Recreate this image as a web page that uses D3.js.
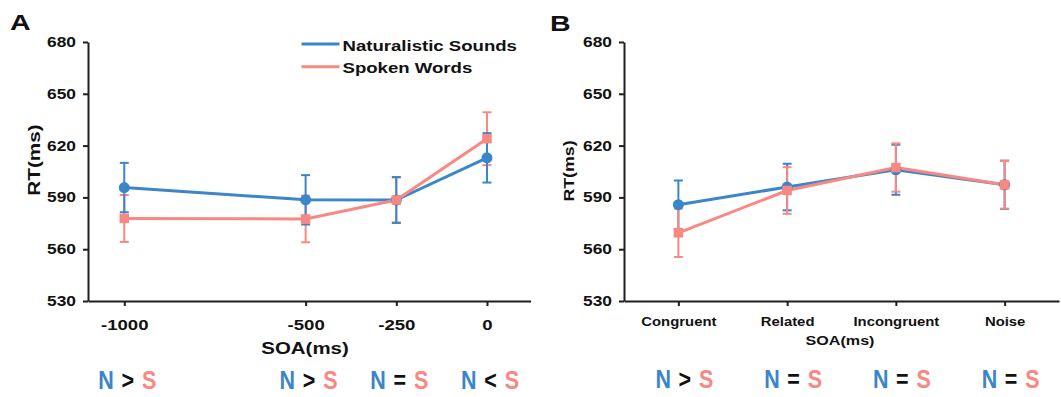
<!DOCTYPE html>
<html>
<head>
<meta charset="utf-8">
<script src="https://cdn.jsdelivr.net/npm/d3@7"></script>
<style>
  html, body { margin: 0; padding: 0; background: #fff; }
  svg { display: block; }
  text { font-family: "Liberation Sans", Arial, Helvetica, sans-serif; font-weight: bold; fill: #111; }
</style>
</head>
<body>
<svg id="fig" width="1061" height="397"></svg>
<script>
// ---- Panel A: RT by SOA ----
const soaValues = [-1000, -500, -250, 0];
const soaTickLabels = ["-1000", "-500", "-250", "0"];
const naturalMeanA = [595.7, 588.6, 588.5, 612.9];
const naturalSemA  = [14.3, 14.3, 13.3, 14.3];
const spokenMeanA  = [577.8, 577.5, 588.5, 624.0];
const spokenSemA   = [13.6, 13.5, 13.0, 15.3];
const compareA = [">", ">", "=", "<"];

// ---- Panel B: RT by prime condition ----
const conditions = ["Congruent", "Related", "Incongruent", "Noise"];
const naturalMeanB = [585.8, 596.0, 606.0, 597.3];
const naturalSemB  = [14.0, 13.5, 14.5, 14.0];
const spokenMeanB  = [569.5, 594.0, 607.3, 597.3];
const spokenSemB   = [14.0, 13.5, 14.0, 13.8];
const compareB = [">", "=", "=", "="];

const rtTicks = [530, 560, 590, 620, 650, 680];
const seriesNames = ["Naturalistic Sounds", "Spoken Words"];

const BLUE = "#3a86c8";
const PINK = "#f98883";
const AXIS = "#1e1e1e";
const STRETCH = 1.24;

const svg = d3.select("#fig");

// scale glyphs horizontally around each text's own anchor point
function stretch(sel, k) {
  sel.each(function () {
    const t = d3.select(this);
    const x = +t.attr("x") || 0, y = +t.attr("y") || 0;
    t.attr("x", 0).attr("y", 0)
     .attr("transform", `translate(${x},${y}) scale(${k},1)`);
  });
}

function styleAxis(g) {
  g.selectAll(".domain").attr("stroke", AXIS).attr("stroke-width", 2);
  g.selectAll(".tick line").attr("stroke", AXIS).attr("stroke-width", 2);
  g.selectAll("text").attr("fill", "#111");
}

function drawSeries(g, x, y, keys, means, sems, color, shape) {
  const pts = keys.map((k, i) => ({ k, m: means[i], s: sems[i] }));
  return {
    line() {
      g.append("path").datum(pts)
        .attr("fill", "none").attr("stroke", color).attr("stroke-width", 3)
        .attr("stroke-linejoin", "round")
        .attr("d", d3.line().x(d => x(d.k)).y(d => y(d.m)));
    },
    errors() {
      const eb = g.append("g").attr("stroke", color).attr("stroke-width", 2);
      pts.forEach(d => {
        const cx = x(d.k);
        eb.append("line").attr("x1", cx).attr("x2", cx)
          .attr("y1", y(d.m - d.s)).attr("y2", y(d.m + d.s));
        [d.m - d.s, d.m + d.s].forEach(v => {
          eb.append("line").attr("x1", cx - 4.5).attr("x2", cx + 4.5)
            .attr("y1", y(v)).attr("y2", y(v));
        });
      });
    },
    markers() {
      if (shape === "circle") {
        g.selectAll(null).data(pts).join("circle")
          .attr("cx", d => x(d.k)).attr("cy", d => y(d.m)).attr("r", 5.5)
          .attr("fill", color);
      } else {
        g.selectAll(null).data(pts).join("rect")
          .attr("x", d => x(d.k) - 4.75).attr("y", d => y(d.m) - 4.75)
          .attr("width", 9.5).attr("height", 9.5).attr("fill", color);
      }
    }
  };
}

// "N ? S" comparison markers under each condition
function comparisons(g, xs, symbols, baseline) {
  const k = 0.86;
  xs.forEach((cx, i) => {
    stretch(g.append("text").attr("x", cx - 29).attr("y", baseline)
      .attr("font-size", 25).attr("text-anchor", "start")
      .style("fill", BLUE).text("N"), k);
    stretch(g.append("text").attr("x", cx + 0.5).attr("y", baseline)
      .attr("font-size", 25).attr("text-anchor", "middle")
      .style("fill", "#111").text(symbols[i]), k);
    stretch(g.append("text").attr("x", cx + 29).attr("y", baseline)
      .attr("font-size", 25).attr("text-anchor", "end")
      .style("fill", PINK).text("S"), k);
  });
}

// ================= Panel A =================
const xA = d3.scaleLinear().domain([-1100, 120]).range([88, 530.5]);
const yA = d3.scaleLinear().domain([530, 680]).range([301, 42]);
const gA = svg.append("g");

const axYA = gA.append("g").attr("transform", `translate(${xA.range()[0]},0)`)
  .call(d3.axisLeft(yA).tickValues(rtTicks).tickSize(5).tickPadding(7).tickSizeOuter(0));
axYA.selectAll("text").attr("font-size", 14);
styleAxis(axYA);
stretch(axYA.selectAll(".tick text"), STRETCH);

const axXA = gA.append("g").attr("transform", `translate(0,${yA.range()[0]})`)
  .call(d3.axisBottom(xA).tickValues(soaValues)
    .tickFormat((d, i) => soaTickLabels[i]).tickSize(5).tickSizeOuter(0));
axXA.selectAll("text").attr("font-size", 15).attr("y", 18);
styleAxis(axXA);
stretch(axXA.selectAll(".tick text"), STRETCH);

const nA = drawSeries(gA, xA, yA, soaValues, naturalMeanA, naturalSemA, BLUE, "circle");
const sA = drawSeries(gA, xA, yA, soaValues, spokenMeanA, spokenSemA, PINK, "square");
nA.line(); sA.line(); sA.errors(); nA.errors(); nA.markers(); sA.markers();

stretch(gA.append("text").attr("x", 305).attr("y", 354).attr("text-anchor", "middle")
  .attr("font-size", 16.5).text("SOA(ms)"), STRETCH);
gA.append("text").attr("text-anchor", "middle").attr("font-size", 17)
  .attr("transform", "translate(40,160) rotate(-90) scale(1.22,1)").text("RT(ms)");
stretch(gA.append("text").attr("x", 10).attr("y", 30).attr("font-size", 22).text("A"), 1.3);

// legend
const legend = gA.append("g");
[BLUE, PINK].forEach((c, i) => {
  const ly = 44 + i * 22.7;
  legend.append("line").attr("x1", 301.5).attr("x2", 339.5).attr("y1", ly).attr("y2", ly)
    .attr("stroke", c).attr("stroke-width", 3);
  stretch(legend.append("text").attr("x", 342.5).attr("y", ly + 6.5)
    .attr("font-size", 15).text(seriesNames[i]), STRETCH);
});

comparisons(gA, soaValues.map(v => xA(v) + 3), compareA, 389);

// ================= Panel B =================
const xB = d3.scalePoint().domain(conditions).range([624, 1059]).padding(0.5);
const yB = d3.scaleLinear().domain([530, 680]).range([301, 42]);
const gB = svg.append("g");

const axYB = gB.append("g").attr("transform", `translate(${xB.range()[0]},0)`)
  .call(d3.axisLeft(yB).tickValues(rtTicks).tickSize(5).tickPadding(7).tickSizeOuter(0));
axYB.selectAll("text").attr("font-size", 14);
styleAxis(axYB);
stretch(axYB.selectAll(".tick text"), STRETCH);

const axXB = gB.append("g").attr("transform", `translate(0,${yB.range()[0]})`)
  .call(d3.axisBottom(xB).tickSize(5).tickSizeOuter(0));
axXB.selectAll("text").attr("font-size", 12).attr("y", 16.5);
styleAxis(axXB);
stretch(axXB.selectAll(".tick text"), STRETCH);

const nB = drawSeries(gB, xB, yB, conditions, naturalMeanB, naturalSemB, BLUE, "circle");
const sB = drawSeries(gB, xB, yB, conditions, spokenMeanB, spokenSemB, PINK, "square");
nB.line(); sB.line(); nB.errors(); sB.errors(); nB.markers(); sB.markers();

stretch(gB.append("text").attr("x", 840).attr("y", 345).attr("text-anchor", "middle")
  .attr("font-size", 13).text("SOA(ms)"), STRETCH);
gB.append("text").attr("text-anchor", "middle").attr("font-size", 14)
  .attr("transform", "translate(574,171) rotate(-90) scale(1.27,1)").text("RT(ms)");
stretch(gB.append("text").attr("x", 550).attr("y", 31).attr("font-size", 22).text("B"), 1.3);

comparisons(gB, conditions.map(c => xB(c) + 6), compareB, 388);
</script>
</body>
</html>
